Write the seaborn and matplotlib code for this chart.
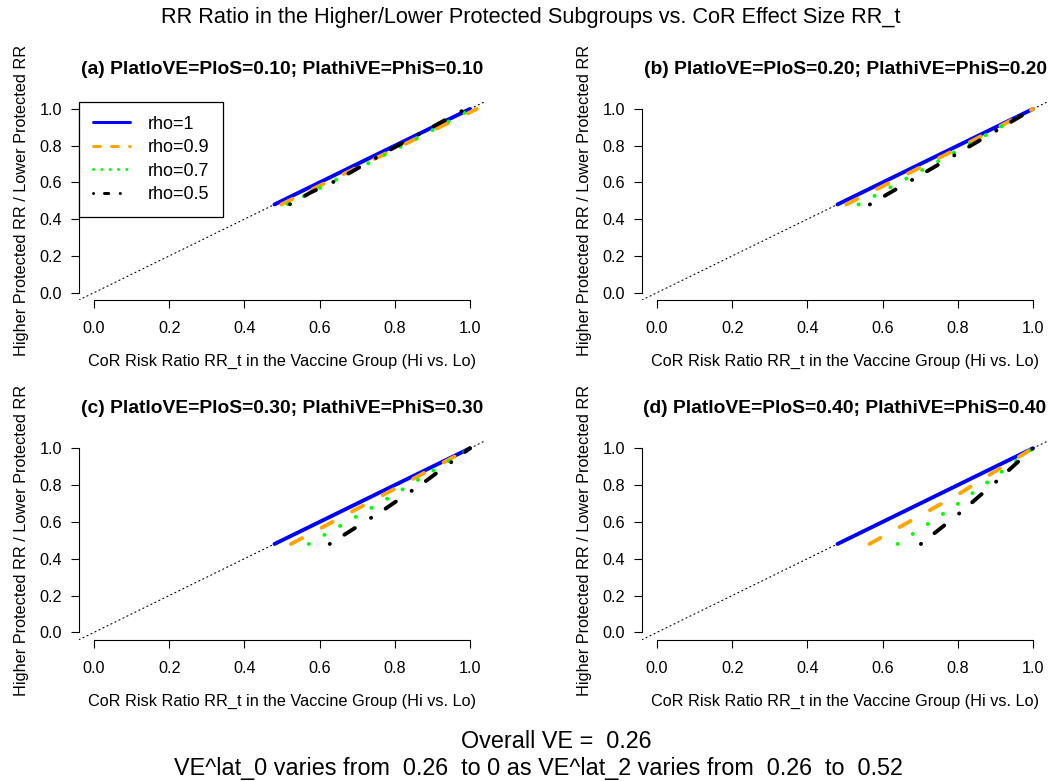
import numpy as np
import pandas as pd
import matplotlib
matplotlib.use("Agg")
import matplotlib.pyplot as plt
import seaborn as sns
from matplotlib.lines import Line2D

# ---------------- text ----------------
main_title = "RR Ratio in the Higher/Lower Protected Subgroups vs. CoR Effect Size RR_t"
panel_titles = [
    "(a) PlatloVE=PloS=0.10; PlathiVE=PhiS=0.10",
    "(b) PlatloVE=PloS=0.20; PlathiVE=PhiS=0.20",
    "(c) PlatloVE=PloS=0.30; PlathiVE=PhiS=0.30",
    "(d) PlatloVE=PloS=0.40; PlathiVE=PhiS=0.40",
]
x_label = "CoR Risk Ratio RR_t in the Vaccine Group (Hi vs. Lo)"
y_label = "Higher Protected RR / Lower Protected RR"
footer_1 = "Overall VE =  0.26"
footer_2 = "VE^lat_0 varies from  0.26  to 0 as VE^lat_2 varies from  0.26  to  0.52"

rho_labels = ["rho=1", "rho=0.9", "rho=0.7", "rho=0.5"]
rho_colors = ["#0000FF", "#FFA500", "#00FF00", "#000000"]
tick_values = [0.0, 0.2, 0.4, 0.6, 0.8, 1.0]
tick_labels = ["0.0", "0.2", "0.4", "0.6", "0.8", "1.0"]

# ---------------- data ----------------
# rho = 1 : identical in every panel
rr_t_rho1 = [0.48, 1.00]
ratio_rho1 = [0.48, 1.00]

# panel (a)
a_rr_t_09 = [0.498, 1.018]
a_ratio_09 = [0.480, 1.000]
a_rr_t_07 = [0.515, 0.556, 0.720, 0.846, 0.971, 1.000]
a_ratio_07 = [0.481, 0.523, 0.695, 0.826, 0.962, 0.995]
a_rr_t_05 = [0.521, 0.576, 0.638, 0.692, 0.787, 0.902, 0.938, 0.973, 1.000]
a_ratio_05 = [0.481, 0.545, 0.604, 0.666, 0.777, 0.904, 0.944, 0.985, 1.000]

# panel (b)
b_rr_t_09 = [0.503, 0.786, 1.000]
b_ratio_09 = [0.480, 0.770, 1.000]
b_rr_t_07 = [0.536, 0.742, 1.000]
b_ratio_07 = [0.480, 0.708, 1.000]
b_rr_t_05 = [0.566, 0.788, 1.000]
b_ratio_05 = [0.480, 0.744, 1.000]

# panel (c)
c_rr_t_09 = [0.524, 0.774, 1.000]
c_ratio_09 = [0.480, 0.752, 1.000]
c_rr_t_07 = [0.571, 0.774, 1.000]
c_ratio_07 = [0.480, 0.719, 1.000]
c_rr_t_05 = [0.627, 0.774, 0.880, 1.000]
c_ratio_05 = [0.480, 0.670, 0.818, 1.000]

# panel (d)
d_rr_t_09 = [0.565, 0.808, 0.888, 1.000]
d_ratio_09 = [0.480, 0.758, 0.861, 1.000]
d_rr_t_07 = [0.640, 0.795, 0.909, 1.000]
d_ratio_07 = [0.480, 0.690, 0.861, 1.000]
d_rr_t_05 = [0.702, 0.801, 0.899, 1.000]
d_ratio_05 = [0.480, 0.641, 0.813, 1.000]

panel_series = [
    [(rr_t_rho1, ratio_rho1), (a_rr_t_09, a_ratio_09), (a_rr_t_07, a_ratio_07), (a_rr_t_05, a_ratio_05)],
    [(rr_t_rho1, ratio_rho1), (b_rr_t_09, b_ratio_09), (b_rr_t_07, b_ratio_07), (b_rr_t_05, b_ratio_05)],
    [(rr_t_rho1, ratio_rho1), (c_rr_t_09, c_ratio_09), (c_rr_t_07, c_ratio_07), (c_rr_t_05, c_ratio_05)],
    [(rr_t_rho1, ratio_rho1), (d_rr_t_09, d_ratio_09), (d_rr_t_07, d_ratio_07), (d_rr_t_05, d_ratio_05)],
]

# ---------------- style ----------------
sns.set_style("ticks")
plt.rcParams["font.family"] = ["Liberation Sans", "DejaVu Sans"]
plt.rcParams["text.color"] = "black"
plt.rcParams["axes.labelcolor"] = "black"
plt.rcParams["axes.titlecolor"] = "black"
plt.rcParams["xtick.color"] = "black"
plt.rcParams["ytick.color"] = "black"
plt.rcParams["lines.dash_capstyle"] = "round"
plt.rcParams["lines.solid_capstyle"] = "round"

LW = 2.8
line_dashes = {
    "rho=1": "",
    "rho=0.9": (3.2, 5.7),
    "rho=0.7": (0.05, 4.6),
    "rho=0.5": (0.05, 4.4, 3.2, 4.9),
}
legend_lw = 2.16
legend_dashes = {
    "rho=1": None,
    "rho=0.9": (2.33, 3.67),
    "rho=0.7": (0.05, 2.72),
    "rho=0.5": (0.05, 3.6, 1.43, 3.84),
}
palette = dict(zip(rho_labels, rho_colors))

W, H = 1051, 781
fig = plt.figure(figsize=(W / 100, H / 100), dpi=100)

# axes rectangles in pixels: (left, top, right, bottom)
rects = [
    (79, 101.6, 485, 300.0),
    (642, 101.6, 1048, 300.0),
    (79, 440.9, 485, 639.7),
    (642, 440.9, 1048, 639.7),
]

for i, (l, t, r, b) in enumerate(rects):
    ax = fig.add_axes([l / W, (H - b) / H, (r - l) / W, (b - t) / H])
    rows = []
    for lab, (xs, ys) in zip(rho_labels, panel_series[i]):
        for xv, yv in zip(xs, ys):
            rows.append({"rr_t": xv, "ratio": yv, "rho": lab})
    df = pd.DataFrame(rows)
    sns.lineplot(
        data=df, x="rr_t", y="ratio", hue="rho", style="rho",
        hue_order=rho_labels, style_order=rho_labels,
        palette=palette, dashes=line_dashes,
        estimator=None, sort=False, lw=LW, legend=False, ax=ax,
    )
    ax.axline((0, 0), (1, 1), color="black", lw=0.8, dashes=(1, 3), zorder=1)

    ax.set_xlim(-0.04, 1.04)
    ax.set_ylim(-0.04, 1.04)
    ax.set_xticks(tick_values, tick_labels)
    ax.set_yticks(tick_values, tick_labels)
    for side in ["top", "right"]:
        ax.spines[side].set_visible(False)
    for side in ["left", "bottom"]:
        ax.spines[side].set_bounds(0, 1)
        ax.spines[side].set_color("black")
        ax.spines[side].set_linewidth(0.8)
    ax.tick_params(axis="both", direction="out", length=6, width=0.8,
                   colors="black", labelcolor="black", labelsize=11.7)
    ax.tick_params(axis="x", pad=9)
    ax.tick_params(axis="y", pad=6)

    ax.set_xlabel(x_label, fontsize=11.7, color="black")
    ax.xaxis.set_label_coords(0.5, -54.0 / (b - t))
    ax.set_ylabel(y_label, fontsize=11.7, color="black")
    ax.yaxis.set_label_coords(-50.0 / (r - l), 0.5)
    ax.set_title(panel_titles[i], fontsize=13.9, fontweight="bold", pad=20, color="black")

    if i == 0:
        handles = []
        for lab, col in zip(rho_labels, rho_colors):
            h = Line2D([0], [0], color=col, lw=legend_lw)
            if legend_dashes[lab] is not None:
                h.set_dashes(legend_dashes[lab])
            handles.append(h)
        leg = ax.legend(handles, rho_labels, loc="upper left", bbox_to_anchor=(0, 1),
                        borderaxespad=0, fontsize=13, frameon=True, fancybox=False,
                        handlelength=2.05, handletextpad=0.96, labelspacing=0.36,
                        borderpad=0.78)
        leg.get_frame().set_edgecolor("black")
        leg.get_frame().set_linewidth(0.9)
        leg.get_frame().set_alpha(1)
        for txt in leg.get_texts():
            txt.set_color("black")

fig.text(531 / W, 1 - 18 / H, main_title, ha="center", va="center", fontsize=15.7, color="black")
fig.text(556 / W, 1 - 741 / H, footer_1, ha="center", va="center", fontsize=16.8, color="black")
fig.text(538.5 / W, 1 - 769 / H, footer_2, ha="center", va="center", fontsize=16.8, color="black")

fig.savefig("out.png", dpi=100)
